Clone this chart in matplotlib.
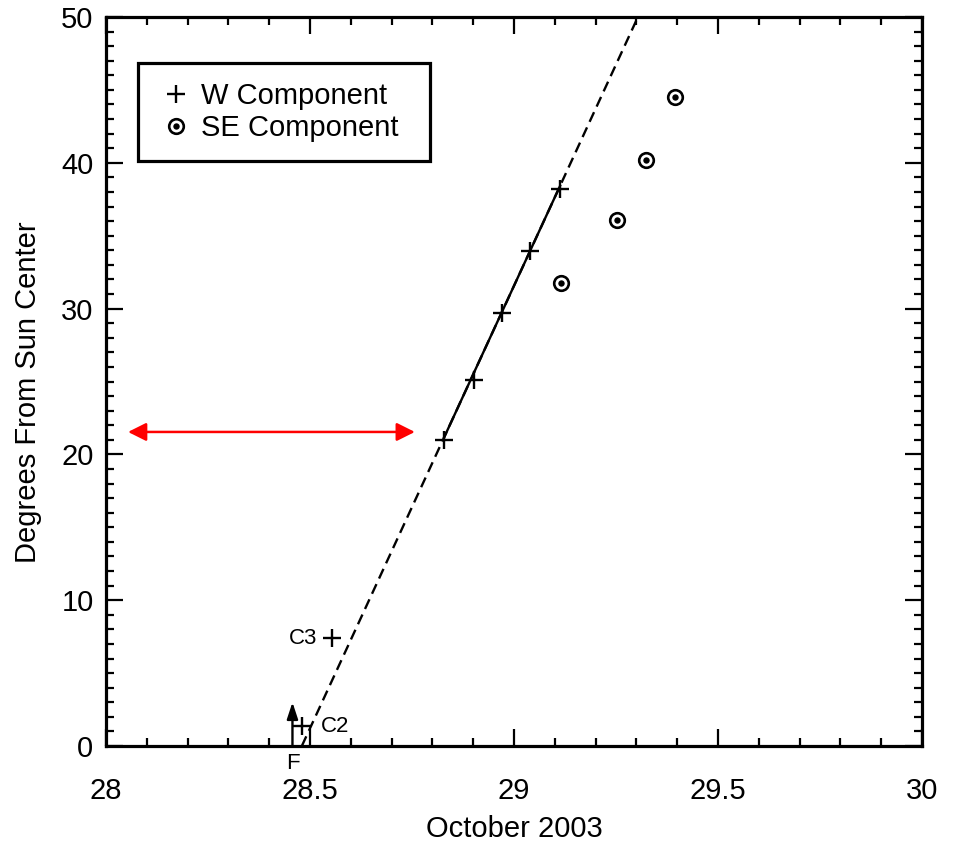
import matplotlib
matplotlib.use("Agg")
import matplotlib.pyplot as plt
from matplotlib.ticker import MultipleLocator
from matplotlib.legend_handler import HandlerTuple
import numpy as np

plt.rcParams['font.family'] = ['Liberation Sans', 'DejaVu Sans']

# ---- data ----
w_dates = [28.829, 28.902, 28.970, 29.039, 29.113]
w_deg = [20.97, 25.09, 29.70, 33.97, 38.19]
c_dates = [28.553, 28.480]          # C3, C2 points
c_deg = [7.40, 1.34]
c_names = ["C3", "C2"]
se_dates = [29.115, 29.253, 29.323, 29.395]
se_deg = [31.79, 36.09, 40.19, 44.53]

fit_t0 = 28.48        # day when fit reaches 0 degrees
fit_rate = 60.7       # degrees per day
fit_deg_range = [0.0, 50.0]

flare_date = 28.457
flare_len = 3.0

red_arrow_dates = [28.054, 28.757]
red_arrow_deg = 21.54

xticks = [28, 28.5, 29, 29.5, 30]
xticklabels = ["28", "28.5", "29", "29.5", "30"]
yticks = [0, 10, 20, 30, 40, 50]

# ---- figure ----
fig = plt.figure(figsize=(9.56, 8.42), dpi=100)
ax = fig.add_axes([106/956, 1-746/842, 816/956, 729/842])

ax.set_xlim(28, 30)
ax.set_ylim(0, 50)

# fit line: dashed over full extent, solid over W points
fd = np.array(fit_deg_range)
ax.plot(fit_t0 + fd/fit_rate, fd, color='black', lw=1.7, dashes=(4.5, 2.6),
        solid_capstyle='butt', zorder=2)
seg = np.array([w_dates[0], w_dates[-1]])
ax.plot(seg, fit_rate*(seg - fit_t0), color='black', lw=1.7, zorder=2)

# W component
hw, = ax.plot(w_dates, w_deg, ls='none', marker='+', ms=13, mew=1.7, color='black', zorder=3)
ax.plot(c_dates, c_deg, ls='none', marker='+', ms=13, mew=1.7, color='black', zorder=3)

# SE component
h1, = ax.plot(se_dates, se_deg, ls='none', marker='o', ms=10.5, mew=1.9,
              mfc='white', mec='black', zorder=3)
h2, = ax.plot(se_dates, se_deg, ls='none', marker='o', ms=4.6, mew=0,
              color='black', zorder=4)

# labels for C3, C2
ax.text(c_dates[0] - 0.036, c_deg[0], c_names[0], ha='right', va='center', fontsize=16)
ax.text(c_dates[1] + 0.047, c_deg[1], c_names[1], ha='left', va='center', fontsize=16)

# Flare arrow
ax.annotate("", xy=(flare_date, flare_len), xytext=(flare_date, 0),
            arrowprops=dict(arrowstyle='-|>,head_length=1.0,head_width=0.33',
                            color='black', lw=1.7, shrinkA=0, shrinkB=0),
            annotation_clip=False, zorder=3)
ax.text(flare_date + 0.002, -1.2, "F", ha='center', va='center', fontsize=16, clip_on=False)

# red double arrow
ax.annotate("", xy=(red_arrow_dates[1], red_arrow_deg), xytext=(red_arrow_dates[0], red_arrow_deg),
            arrowprops=dict(arrowstyle='<|-|>,head_length=1.1,head_width=0.55',
                            color='#ff0000', lw=1.8, shrinkA=0, shrinkB=0))

# axes styling
for s in ax.spines.values():
    s.set_linewidth(2.3)
ax.set_xticks(xticks)
ax.set_xticklabels(xticklabels)
ax.set_yticks(yticks)
ax.xaxis.set_minor_locator(MultipleLocator(0.1))
ax.yaxis.set_minor_locator(MultipleLocator(1))
ax.tick_params(which='both', direction='in', top=True, right=True, width=1.6)
ax.tick_params(which='major', length=12, labelsize=21)
ax.tick_params(which='minor', length=6)
ax.tick_params(axis='x', which='major', pad=22)
ax.tick_params(axis='y', which='major', pad=9)

ax.set_xlabel("October 2003", fontsize=21)
ax.set_ylabel("Degrees From Sun Center", fontsize=21)
ax.xaxis.set_label_coords(0.5, -0.094)
ax.yaxis.set_label_coords(-0.0785, 0.486)

leg = ax.legend([hw, (h1, h2)], ["W Component", "SE Component"],
                handler_map={tuple: HandlerTuple(ndivide=1)},
                loc='upper left', bbox_to_anchor=(0.0392, 0.937, 0.358, 0.0),
                mode='expand',
                borderaxespad=0, fontsize=21, frameon=True, fancybox=False,
                edgecolor='black', framealpha=1, borderpad=0.65,
                labelspacing=0.14, handlelength=1.3, handletextpad=0.2)
leg.get_frame().set_linewidth(2.3)

fig.savefig("out.png", dpi=100)
